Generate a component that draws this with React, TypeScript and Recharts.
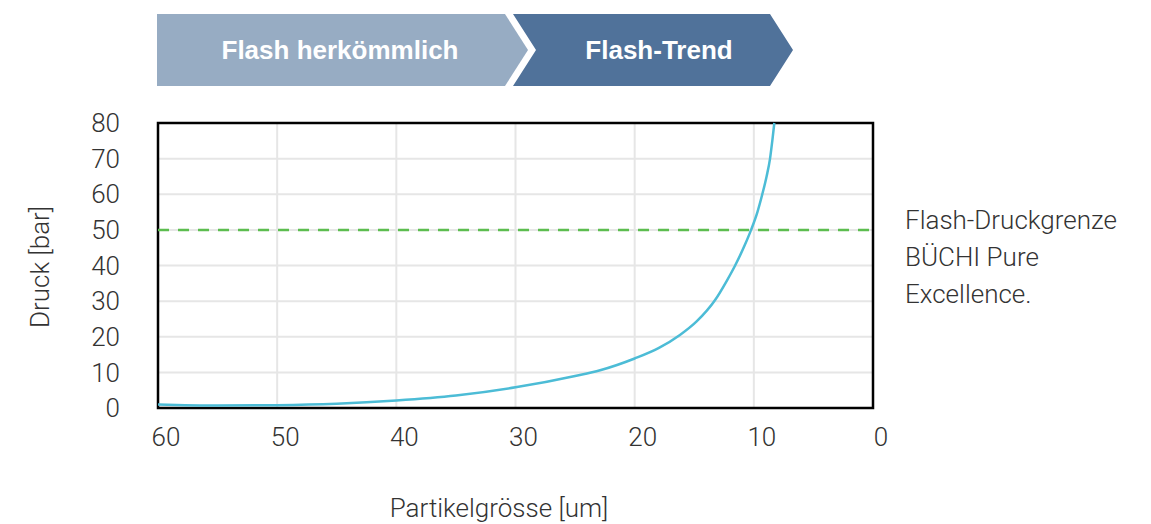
import React from 'react';
import {
  LineChart,
  Line,
  XAxis,
  YAxis,
  CartesianGrid,
  ReferenceLine,
  ReferenceArea,
} from 'recharts';

// particle size [um] vs pressure [bar]
const sizeUm = [60, 55, 50, 45, 40, 35, 30, 25, 22.9, 20, 18, 16.2, 14.8, 13.25, 12.27, 11.57, 10.75, 10.23, 9.7, 9.29, 8.93, 8.64, 8.45, 8.28];
const pressureBar = [1.0, 0.7, 0.8, 1.2, 2.1, 3.5, 5.8, 9.0, 10.6, 13.9, 16.8, 20.5, 24.3, 30.3, 35.7, 40, 45.8, 50, 55, 60, 65, 70, 75, 80];

const xTicks = [0, 10, 20, 30, 40, 50, 60];
const yTicks = [0, 10, 20, 30, 40, 50, 60, 70, 80];
const limitBar = 50;

const noteLines = ['Flash-Druckgrenze', 'BÜCHI Pure', 'Excellence.'];

const data = sizeUm.map((s, i) => ({ size: s, pressure: pressureBar[i] }));

const FONT = 'Roboto, "Helvetica Neue", Arial, sans-serif';
const tickStyle = { fill: '#333', fontSize: 26, fontFamily: FONT, fontWeight: 300 };

export default function App() {
  return (
    <div style={{ position: 'absolute', left: 0, top: 0, width: 1151, height: 524, background: '#fff' }}>
      <LineChart
        width={1151}
        height={524}
        data={data}
        margin={{ top: 123, right: 278, bottom: 56, left: 58 }}
      >
        <CartesianGrid stroke="#e6e6e6" strokeWidth={2} />
        <XAxis
          dataKey="size"
          type="number"
          domain={[0, 60]}
          ticks={xTicks}
          interval={0}
          reversed
          axisLine={false}
          tickLine={false}
          tickSize={0}
          tickMargin={20}
          tick={{ ...tickStyle, dx: 8 }}
          height={60}
        />
        <YAxis
          type="number"
          domain={[0, 80]}
          ticks={yTicks}
          interval={0}
          axisLine={false}
          tickLine={false}
          tickSize={0}
          tickMargin={38}
          tick={tickStyle}
          width={100}
        />
        <ReferenceLine y={limitBar} stroke="#5cbd4f" strokeWidth={2.5} strokeDasharray="11 9" />
        <Line
          type="monotone"
          dataKey="pressure"
          stroke="#4cbcd6"
          strokeWidth={2.5}
          dot={false}
          isAnimationActive={false}
        />
        <ReferenceArea x1={0} x2={60} y1={0} y2={80} fill="none" stroke="#000" strokeWidth={2.5} />
      </LineChart>

      <svg width={1151} height={524} style={{ position: 'absolute', left: 0, top: 0, pointerEvents: 'none' }}>
        {/* phase chevrons */}
        <polygon points="157,14 505,14 528,50 505,86 157,86" fill="#97acc3" />
        <polygon points="513,14 770,14 793,50 770,86 513,86 536,50" fill="#50729a" />
        <text x={340} y={59} textAnchor="middle" fill="#fff" fontSize={26} fontWeight={700} fontFamily="'Liberation Sans', Arial, sans-serif">
          Flash herkömmlich
        </text>
        <text x={659} y={59} textAnchor="middle" fill="#fff" fontSize={26} fontWeight={700} fontFamily="'Liberation Sans', Arial, sans-serif">
          Flash-Trend
        </text>

        {/* axis titles */}
        <text
          x={40}
          y={267}
          transform="rotate(-90 40 267)"
          textAnchor="middle"
          dominantBaseline="central"
          fill="#333"
          fontSize={26}
          fontWeight={300}
          fontFamily={FONT}
        >
          Druck [bar]
        </text>
        <text x={499} y={517} textAnchor="middle" fill="#333" fontSize={26} fontWeight={300} fontFamily={FONT}>
          Partikelgrösse [um]
        </text>

        {/* limit note */}
        {noteLines.map((line, i) => (
          <text key={line} x={905} y={229 + i * 37} fill="#333" fontSize={26} fontWeight={300} fontFamily={FONT}>
            {line}
          </text>
        ))}
      </svg>
    </div>
  );
}
